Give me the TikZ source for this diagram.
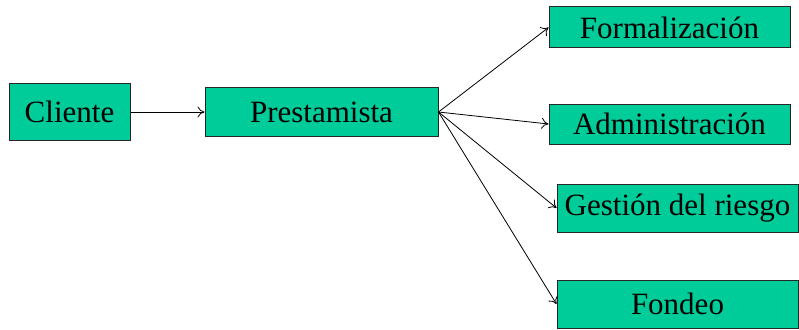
\documentclass[tikz,border=0pt]{standalone}
\usepackage{fontspec}
\setmainfont{Liberation Serif}
\usetikzlibrary{arrows.meta}
\definecolor{boxgreen}{RGB}{0,204,153}
\begin{document}
\begin{tikzpicture}[x=1pt,y=-1pt,
  box/.style={draw=black!85, line width=1pt, fill=boxgreen, inner sep=0pt, font=\fontsize{31}{36}\selectfont},
  conn/.style={line width=0.8pt, -{To[length=7pt,width=11pt]}}]
\useasboundingbox (0,0) rectangle (799,329);
\node[box, minimum width=121pt, minimum height=57pt] (cli) at (69.5,112) {Cliente};
\node[box, minimum width=233pt, minimum height=49pt] (pre) at (321.5,112) {Prestamista};
\node[box, minimum width=241pt, minimum height=41pt] (for) at (669.5,27.5) {Formalización};
\node[box, minimum width=241pt, minimum height=40pt] (adm) at (669.5,124) {Administración};
\node[box, minimum width=241pt, minimum height=48pt] (ges) at (677.5,208) {Gestión del riesgo};
\node[box, minimum width=241pt, minimum height=48pt] (fon) at (677.5,304) {Fondeo};
\draw[conn] (cli.east) -- (pre.west);
\draw[conn] (pre.east) -- (for.west);
\draw[conn] (pre.east) -- (adm.west);
\draw[conn] (pre.east) -- (ges.west);
\draw[conn] (pre.east) -- (fon.west);
\end{tikzpicture}
\end{document}
